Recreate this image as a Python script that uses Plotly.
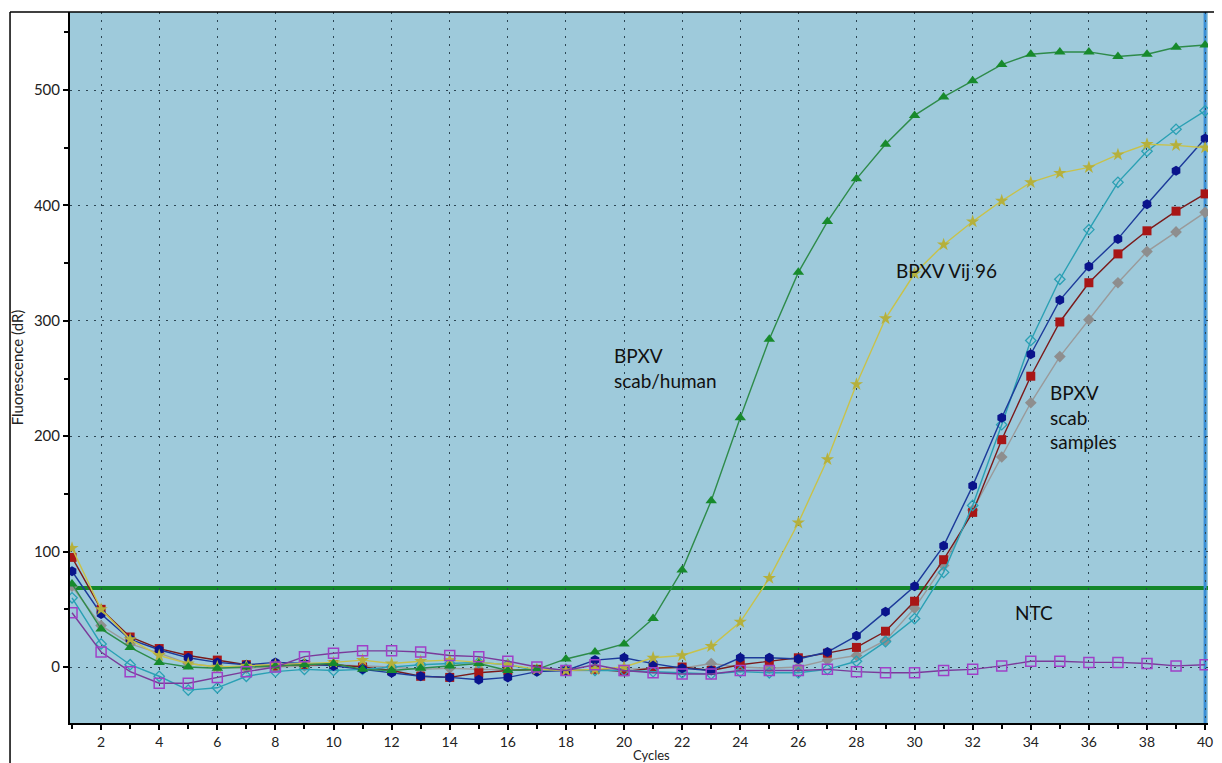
import plotly.graph_objects as go

cycles = list(range(1, 41))

scab_human = [72, 33, 17, 4, 0, -1, 0, 1, 2, 3, -2, -3, -1, 1, 3, -3, -2, 7, 13, 20,
              42, 84, 144, 216, 284, 342, 386, 423, 453, 478, 494, 508, 522, 531, 533, 533, 529, 531, 537, 539]
vij96 = [103, 50, 24, 10, 3, 0, 1, 2, 3, 4, 6, 3, 5, 6, 4, 2, -2, -3, -2, 0,
         8, 10, 18, 39, 77, 125, 180, 245, 302, 341, 366, 386, 404, 420, 428, 433, 444, 453, 452, 450]
scab_blue = [83, 46, 24, 15, 8, 4, 2, 4, 3, 1, -2, -5, -8, -9, -11, -9, -4, -3, 6, 8,
             3, -1, -3, 8, 8, 7, 13, 27, 48, 70, 105, 157, 216, 271, 318, 347, 371, 401, 430, 458]
scab_red = [95, 50, 26, 16, 10, 6, 2, 1, 2, 2, 0, -3, -8, -9, -5, -3, -2, -3, -2, -4,
            -1, 0, -3, 2, 5, 8, 12, 17, 31, 57, 93, 134, 197, 252, 299, 333, 358, 378, 395, 410]
scab_gray = [70, 36, 20, 12, 3, 0, -1, 0, 1, 2, 1, 0, -2, -1, -2, -2, -3, -3, -3, -2,
             -1, -1, 3, 0, -1, 0, 6, 10, 23, 51, 88, 136, 182, 229, 269, 301, 333, 360, 377, 394]
scab_cyan = [60, 20, 2, -8, -20, -18, -8, -4, -2, -3, -2, 0, 2, 3, 4, 2, -3, -2, -3, -3,
             -4, -5, -6, -4, -5, -5, -2, 5, 22, 42, 82, 140, 210, 283, 336, 379, 420, 447, 466, 482]
ntc = [47, 13, -4, -14, -14, -9, -4, 0, 9, 12, 14, 14, 13, 10, 9, 5, 0, -3, 2, -3,
       -5, -6, -6, -3, -3, -3, -2, -4, -5, -5, -3, -2, 1, 5, 5, 4, 4, 3, 1, 2]
threshold = 68.5

x_tick_vals = list(range(2, 41, 2))
x_tick_text = [str(v) for v in x_tick_vals]
y_tick_vals = [0, 100, 200, 300, 400, 500]

FONT = "Lato, 'Open Sans', sans-serif"

series = [
    (scab_gray, "#9a9a9a", dict(symbol="diamond", size=9, color="#8e8e8e")),
    (scab_red, "#7a1a1a", dict(symbol="square", size=9, color="#a81616")),
    (scab_cyan, "#2aa0b4", dict(symbol="diamond-open", size=8, color="#2aa0b4", line=dict(width=1.3))),
    (scab_blue, "#1c3a9a", dict(symbol="hexagon", size=10, color="#0a148c")),
    (vij96, "#c8c24a", dict(symbol="star", size=10, color="#b5b03c")),
    (scab_human, "#2e8b4a", dict(symbol="triangle-up", size=10, color="#178a2c")),
    (ntc, "#7a3a9a", dict(symbol="square-open", size=10, color="#a040c8", line=dict(width=1.5))),
]

fig = go.Figure()
for ys, lc, mk in series:
    fig.add_trace(go.Scatter(x=cycles, y=ys, mode="lines+markers",
                             line=dict(color=lc, width=1.4), marker=mk, showlegend=False))

fig.add_hline(y=threshold, line=dict(color="#14862a", width=4), layer="below")
fig.add_vline(x=cycles[-1], line=dict(color="#3a8fd6", width=3), layer="below")

# outer frame
fig.add_shape(type="line", xref="paper", yref="paper", x0=-0.0527, x1=1.02, y0=1, y1=1,
              line=dict(color="black", width=1.5))
fig.add_shape(type="line", xref="paper", yref="paper", x0=-0.0527, x1=-0.0527, y0=1, y1=-0.06,
              line=dict(color="black", width=1.5))

ann_font = dict(family=FONT, size=19, color="#111111")
fig.add_annotation(x=19.6, y=259, text="BPXV<br>scab/human", showarrow=False, xanchor="left",
                   align="left", font=ann_font)
fig.add_annotation(x=29.3, y=344, text="BPXV Vij 96", showarrow=False, xanchor="left",
                   align="left", font=ann_font)
fig.add_annotation(x=34.6, y=217, text="BPXV<br>scab<br>samples", showarrow=False, xanchor="left",
                   align="left", font=ann_font)
fig.add_annotation(x=34.1, y=47, text="NTC", showarrow=False, xanchor="center",
                   font=ann_font)
fig.add_annotation(x=0.511, xref="paper", y=-0.0445, yref="paper", text="Cycles", showarrow=False,
                   xanchor="center", yanchor="middle",
                   font=dict(family=FONT, size=13, color="#222"))

grid_color = "#2c4654"
fig.update_xaxes(range=[0.93, 40.1], tickmode="array", tickvals=x_tick_vals, ticktext=x_tick_text,
                 ticks="outside", ticklen=5, tickwidth=1.5, tickcolor="black",
                 showgrid=True, gridcolor=grid_color, griddash="2px,6px", gridwidth=1.4,
                 showline=True, linecolor="black", linewidth=2, zeroline=False,
                 minor=dict(dtick=1, tick0=1, ticks="outside", ticklen=4, tickcolor="black", showgrid=False),
                 tickfont=dict(family=FONT, size=14, color="#222"),
                 automargin=False)
fig.update_yaxes(range=[-48.5, 567.6], tickmode="array", tickvals=y_tick_vals,
                 ticks="outside", ticklen=5, tickwidth=1.5, tickcolor="black",
                 showgrid=True, gridcolor=grid_color, griddash="2px,6px", gridwidth=1.4,
                 showline=True, linecolor="black", linewidth=2, zeroline=False,
                 minor=dict(dtick=50, tick0=0, ticks="outside", ticklen=4, tickcolor="black", showgrid=False),
                 tickfont=dict(family=FONT, size=15, color="#222"),
                 title=dict(text="Fluorescence (dR)", font=dict(family=FONT, size=15, color="#222"), standoff=13),
                 automargin=False)

# the page body adds an 8px offset, so the figure is sized to fit the 1222x763 window
fig.update_layout(width=1214, height=755, margin=dict(l=62, r=14, t=4, b=40),
                  plot_bgcolor="#9ecadb", paper_bgcolor="white", showlegend=False)

fig.write_html("out.html")
